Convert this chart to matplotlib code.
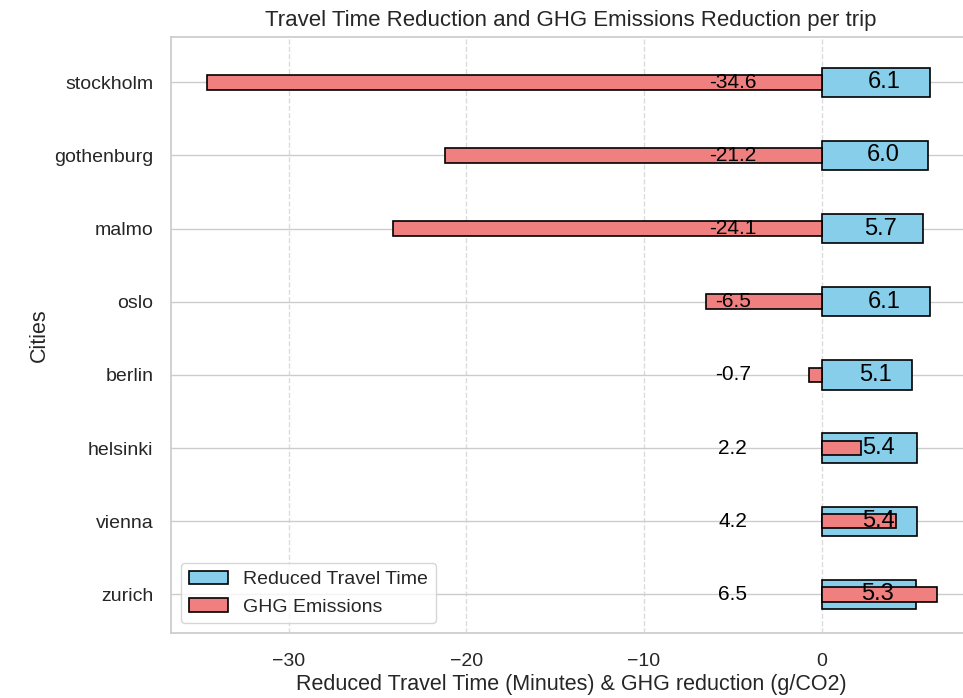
import matplotlib
matplotlib.use("Agg")
import matplotlib.pyplot as plt
import seaborn as sns
import numpy as np

cities = ["stockholm", "gothenburg", "malmo", "oslo", "berlin", "helsinki", "vienna", "zurich"]
travel_time = [6.1, 6.0, 5.7, 6.1, 5.1, 5.4, 5.4, 5.3]
ghg = [-34.6, -21.2, -24.1, -6.5, -0.7, 2.2, 4.2, 6.5]

sns.set_theme(style="whitegrid")
plt.rcParams['font.family'] = ['Liberation Sans', 'DejaVu Sans']

fig = plt.figure(figsize=(9.63, 6.98), dpi=100)
ax = fig.add_axes([0.178, 0.093, 0.83, 0.854])

y = np.arange(len(cities))
ax.barh(y, travel_time, height=0.4, color="skyblue", edgecolor="black", linewidth=1.2,
        label="Reduced Travel Time", zorder=2)
ax.barh(y, ghg, height=0.2, color="lightcoral", edgecolor="black", linewidth=1.2,
        label="GHG Emissions", zorder=3)

for yi, v in zip(y, travel_time):
    ax.text(v / 2 + 0.5, yi, f"{v:.1f}", ha="center", va="center", fontsize=17, color="black", zorder=4)
for yi, v in zip(y, ghg):
    ax.text(-5, yi, f"{v:.1f}", ha="center", va="center", fontsize=15, color="black", zorder=4)

ax.set_yticks(y)
ax.set_yticklabels(cities, fontsize=14)
ax.set_xlim(-36.6, 8.4)
ax.set_ylim(7.53, -0.62)
ax.set_xticks([-30, -20, -10, 0])
ax.tick_params(axis='x', labelsize=14, pad=8)
ax.tick_params(axis='y', pad=7)
ax.grid(axis='x', linestyle='--', alpha=0.7)
ax.grid(axis='y', linestyle='-')
ax.set_xlabel("Reduced Travel Time (Minutes) & GHG reduction (g/CO2)", fontsize=15.5, labelpad=3)
ax.set_ylabel("Cities", fontsize=15.5, labelpad=3)
ax.set_title("Travel Time Reduction and GHG Emissions Reduction per trip", fontsize=16, pad=8)
ax.legend(loc="lower left", fontsize=14)

fig.savefig("out.png", dpi=100)
